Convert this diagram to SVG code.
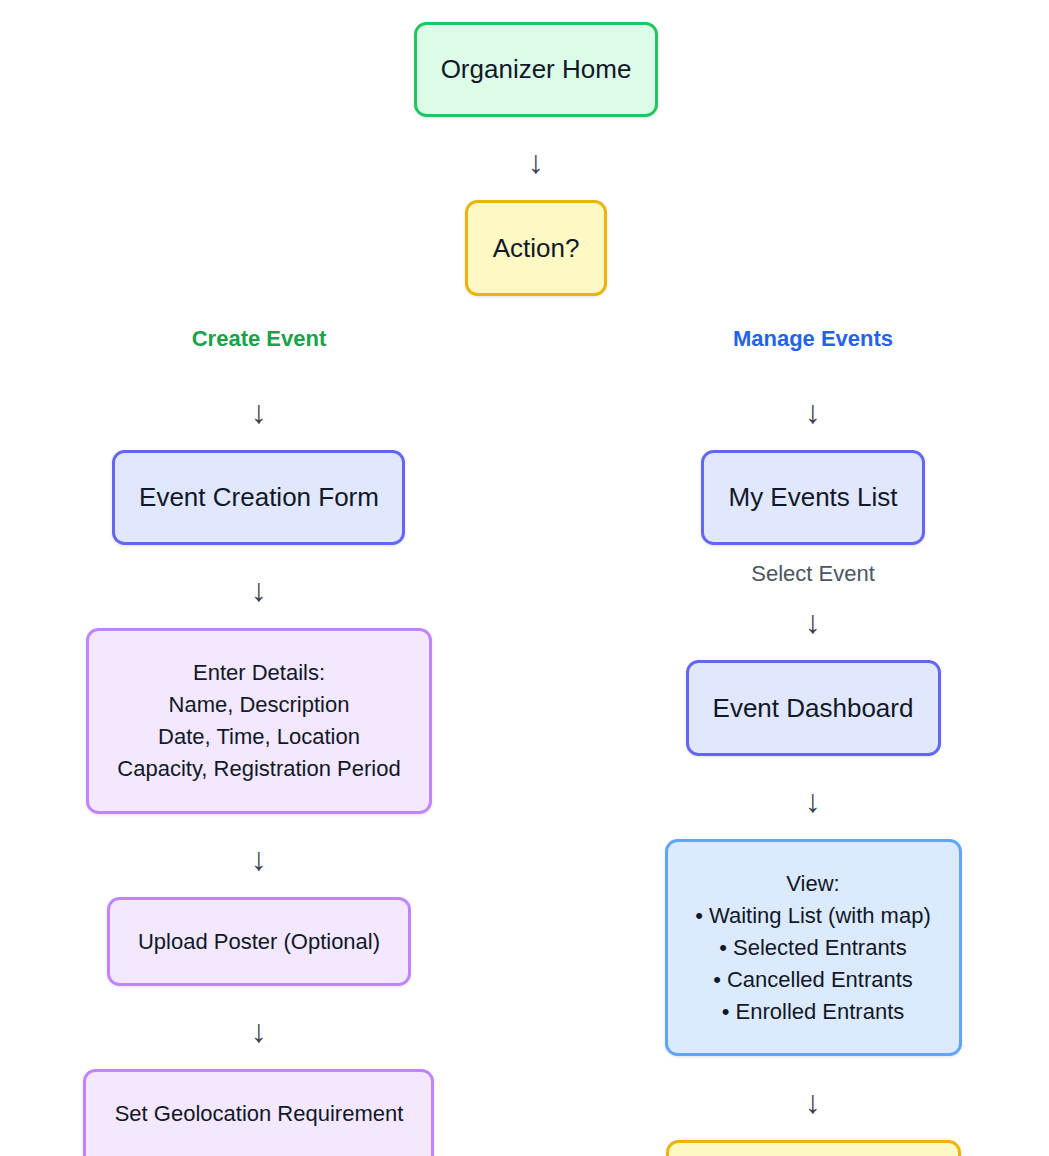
<svg xmlns="http://www.w3.org/2000/svg" width="1049" height="1156" viewBox="0 0 1049 1156">
<defs>
<filter id="sh" x="-10%" y="-10%" width="120%" height="130%">
<feDropShadow dx="0" dy="1" stdDeviation="1.5" flood-color="#000" flood-opacity="0.12"/>
</filter>
</defs>
<style>
text{font-family:"Liberation Sans",Arial,sans-serif;text-anchor:middle;dominant-baseline:central;fill:#111827}
.box{stroke-width:3;filter:url(#sh)}
.green{fill:#dcfce7;stroke:#22c55e}
.yellow{fill:#fef9c3;stroke:#eab308}
.indigo{fill:#e0e7ff;stroke:#6366f1}
.purple{fill:#f3e8ff;stroke:#c084fc}
.blue{fill:#dbeafe;stroke:#60a5fa}
.big{font-size:26px}
.mid{font-size:22px}
.sm{font-size:22px}
.arrow{font-family:"Liberation Sans",sans-serif;font-size:32px;fill:#374151}
.lbl{font-size:22px;font-weight:bold}
</style>
<rect width="1049" height="1156" fill="#ffffff"/>
<g id="connectors">
<text class="arrow" x="536" y="162">↓</text>
<text class="arrow" x="259" y="412">↓</text>
<text class="arrow" x="813" y="412">↓</text>
<text class="arrow" x="259" y="590">↓</text>
<text class="arrow" x="813" y="622">↓</text>
<text class="arrow" x="259" y="859">↓</text>
<text class="arrow" x="813" y="801">↓</text>
<text class="arrow" x="259" y="1031">↓</text>
<text class="arrow" x="813" y="1102">↓</text>
</g>
<g id="label-create"><text class="lbl" x="259" y="338" style="fill:#16a34a">Create Event</text></g>
<g id="label-manage"><text class="lbl" x="813" y="338" style="fill:#2563eb">Manage Events</text></g>
<g id="label-select"><text class="sm" x="813" y="573" style="fill:#4b5563">Select Event</text></g>
<g id="organizer-home">
<rect class="box green" x="415.5" y="23.5" width="241" height="92" rx="11"/>
<text class="big" x="536" y="69">Organizer Home</text>
</g>
<g id="action">
<rect class="box yellow" x="466.5" y="201.5" width="139" height="93" rx="11"/>
<text class="big" x="536" y="248">Action?</text>
</g>
<g id="event-creation-form">
<rect class="box indigo" x="113.5" y="451.5" width="290" height="92" rx="11"/>
<text class="big" x="259" y="497">Event Creation Form</text>
</g>
<g id="my-events-list">
<rect class="box indigo" x="702.5" y="451.5" width="221" height="92" rx="11"/>
<text class="big" x="813" y="497">My Events List</text>
</g>
<g id="enter-details">
<rect class="box purple" x="87.5" y="629.5" width="343" height="183" rx="11"/>
<text class="mid" x="259" y="672">Enter Details:</text>
<text class="mid" x="259" y="704">Name, Description</text>
<text class="mid" x="259" y="736">Date, Time, Location</text>
<text class="mid" x="259" y="768">Capacity, Registration Period</text>
</g>
<g id="event-dashboard">
<rect class="box indigo" x="687.5" y="661.5" width="252" height="93" rx="11"/>
<text class="big" x="813" y="708">Event Dashboard</text>
</g>
<g id="view">
<rect class="box blue" x="666.5" y="840.5" width="294" height="214" rx="11"/>
<text class="mid" x="813" y="883">View:</text>
<text class="mid" x="813" y="915">• Waiting List (with map)</text>
<text class="mid" x="813" y="947">• Selected Entrants</text>
<text class="mid" x="813" y="979">• Cancelled Entrants</text>
<text class="mid" x="813" y="1011">• Enrolled Entrants</text>
</g>
<g id="upload-poster">
<rect class="box purple" x="108.5" y="898.5" width="301" height="86" rx="11"/>
<text class="sm" x="259" y="941">Upload Poster (Optional)</text>
</g>
<g id="set-geolocation">
<rect class="box purple" x="84.5" y="1070.5" width="348" height="100" rx="11"/>
<text class="sm" x="259" y="1113">Set Geolocation Requirement</text>
</g>
<g id="next-action">
<rect class="box yellow" x="667.5" y="1141.5" width="292" height="60" rx="11"/>
</g>
</svg>
